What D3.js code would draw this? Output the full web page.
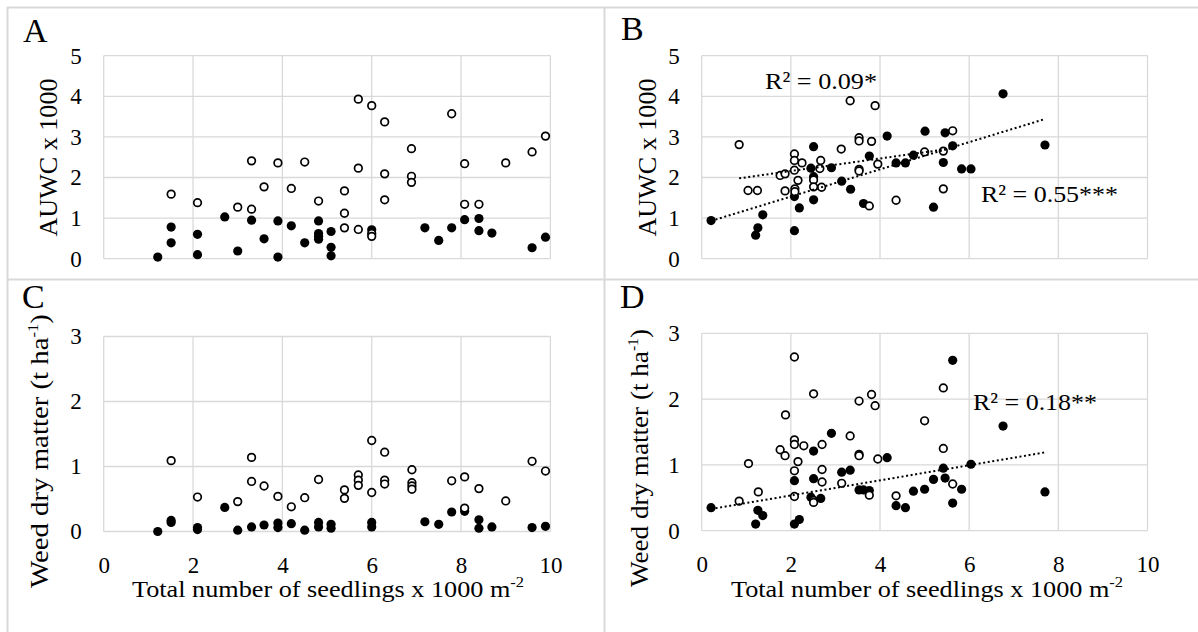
<!DOCTYPE html>
<html>
<head>
<meta charset="utf-8">
<script src="https://cdn.jsdelivr.net/npm/d3@7/dist/d3.min.js"></script>
<style>
  body { margin: 0; background: #fff; }
  svg { display: block; }
  text { font-family: "Liberation Serif", "Times New Roman", serif; fill: #000; }
</style>
</head>
<body>
<div id="chart"></div>
<script>
var width = 1198;
var height = 632;

var aOpenX = [1.51, 2.10, 3.00, 3.31, 3.31, 3.59, 3.90, 4.20, 4.50, 4.81, 5.39, 5.39, 5.39, 5.70, 5.70, 5.70, 6.00, 6.00, 6.00, 6.29, 6.29, 6.29, 6.89, 6.89, 6.89, 7.79, 8.08, 8.08, 8.40, 9.00, 9.59, 9.89];
var aOpenY = [1.59, 1.38, 1.27, 2.41, 1.22, 1.77, 2.36, 1.73, 2.38, 1.42, 1.67, 1.12, 0.76, 3.93, 2.23, 0.72, 3.77, 0.62, 0.55, 3.37, 2.09, 1.45, 2.71, 2.03, 1.88, 3.57, 2.34, 1.34, 1.34, 2.36, 2.63, 3.02];
var aFillX = [1.21, 1.51, 1.51, 2.10, 2.10, 2.71, 3.00, 3.31, 3.59, 3.90, 3.90, 4.20, 4.50, 4.81, 4.81, 4.81, 4.81, 5.09, 5.09, 5.09, 6.00, 7.19, 7.50, 7.79, 8.08, 8.40, 8.40, 8.69, 9.59, 9.89];
var aFillY = [0.04, 0.78, 0.39, 0.60, 0.10, 1.03, 0.19, 0.95, 0.49, 0.93, 0.04, 0.81, 0.39, 0.93, 0.62, 0.55, 0.48, 0.67, 0.28, 0.07, 0.71, 0.76, 0.45, 0.76, 0.96, 0.99, 0.69, 0.63, 0.27, 0.53];

var bOpenX = [0.84, 1.04, 1.25, 1.76, 1.87, 1.87, 2.08, 2.08, 2.08, 2.09, 2.09, 2.16, 2.25, 2.51, 2.51, 2.67, 2.65, 2.69, 3.13, 3.33, 3.53, 3.53, 3.53, 3.53, 3.76, 3.81, 3.89, 3.95, 4.36, 5.00, 5.42, 5.42, 5.63];
var bOpenY = [2.81, 1.68, 1.68, 2.05, 2.09, 1.67, 2.58, 2.42, 2.18, 1.72, 1.65, 1.93, 2.36, 1.94, 1.77, 2.42, 2.22, 1.76, 2.70, 3.89, 2.98, 2.90, 2.20, 2.16, 1.30, 2.89, 3.77, 2.33, 1.44, 2.63, 2.65, 1.72, 3.15];
var bFillX = [0.21, 1.21, 1.26, 1.37, 2.08, 2.08, 2.19, 2.51, 2.45, 2.51, 2.51, 2.91, 3.14, 3.34, 3.63, 3.76, 4.16, 4.36, 4.57, 4.75, 5.01, 5.20, 5.42, 5.46, 5.63, 5.83, 6.04, 6.76, 7.70];
var bFillY = [0.94, 0.58, 0.76, 1.08, 0.69, 1.53, 1.25, 2.76, 2.23, 2.02, 1.45, 2.24, 1.91, 1.71, 1.36, 2.53, 3.02, 2.36, 2.36, 2.55, 3.14, 1.27, 2.37, 3.10, 2.78, 2.21, 2.21, 4.06, 2.80];

var cOpenX = [1.51, 2.10, 3.00, 3.31, 3.31, 3.59, 3.90, 4.20, 4.50, 4.81, 5.39, 5.39, 5.70, 5.70, 5.70, 6.00, 6.00, 6.29, 6.29, 6.29, 6.90, 6.90, 6.90, 6.90, 7.79, 8.08, 8.08, 8.40, 9.00, 9.59, 9.89];
var cOpenY = [1.09, 0.53, 0.46, 1.14, 0.77, 0.70, 0.54, 0.38, 0.52, 0.80, 0.64, 0.51, 0.87, 0.79, 0.71, 1.40, 0.60, 1.22, 0.79, 0.73, 0.95, 0.75, 0.70, 0.65, 0.78, 0.84, 0.36, 0.66, 0.47, 1.08, 0.93];
var cFillX = [1.21, 1.51, 1.51, 2.10, 2.10, 2.71, 3.00, 3.31, 3.59, 3.90, 3.90, 4.20, 4.50, 4.81, 4.81, 5.09, 5.09, 6.00, 6.00, 7.19, 7.50, 7.79, 8.08, 8.40, 8.40, 8.69, 9.59, 9.89];
var cFillY = [0.00, 0.17, 0.14, 0.06, 0.03, 0.37, 0.02, 0.07, 0.10, 0.13, 0.06, 0.12, 0.02, 0.14, 0.07, 0.11, 0.05, 0.14, 0.07, 0.15, 0.11, 0.30, 0.31, 0.18, 0.05, 0.07, 0.06, 0.08];

var dOpenX = [0.84, 1.05, 1.27, 1.76, 1.87, 1.88, 2.08, 2.08, 2.08, 2.08, 2.08, 2.16, 2.29, 2.51, 2.51, 2.51, 2.70, 2.70, 2.70, 3.14, 3.33, 3.53, 3.53, 3.53, 3.76, 3.81, 3.89, 3.95, 4.36, 5.00, 5.42, 5.42, 5.63];
var dOpenY = [0.45, 1.02, 0.59, 1.23, 1.14, 1.76, 2.64, 1.38, 1.31, 0.91, 0.52, 1.05, 1.29, 2.08, 0.46, 0.43, 1.31, 0.93, 0.74, 0.72, 1.44, 1.97, 1.16, 1.14, 0.54, 2.07, 1.90, 1.09, 0.53, 1.67, 2.17, 1.25, 0.71];
var dFillX = [0.21, 1.21, 1.26, 1.37, 2.08, 2.19, 2.08, 2.51, 2.51, 2.45, 2.67, 2.91, 3.14, 3.33, 3.53, 3.63, 3.76, 4.16, 4.36, 4.57, 4.75, 5.00, 5.20, 5.42, 5.46, 5.63, 5.63, 5.83, 6.04, 6.76, 7.70];
var dFillY = [0.35, 0.10, 0.31, 0.23, 0.10, 0.17, 0.76, 1.21, 0.79, 0.51, 0.49, 1.48, 0.89, 0.92, 0.62, 0.62, 0.61, 1.11, 0.38, 0.35, 0.60, 0.63, 0.78, 0.95, 0.80, 2.59, 0.42, 0.63, 1.01, 1.59, 0.59];

// dotted trend lines, end points
var bTrendOpenX = [0.84, 5.63];
var bTrendOpenY = [1.98, 2.72];
var bTrendFillX = [0.21, 7.70];
var bTrendFillY = [0.93, 3.44];
var dTrendX = [0.21, 7.70];
var dTrendY = [0.33, 1.19];

var xTicks = [0, 2, 4, 6, 8, 10];
var auwcTicks = [0, 1, 2, 3, 4, 5];
var weedTicks = [0, 1, 2, 3];

function zip(xs, ys) { return xs.map((x, i) => [x, ys[i]]); }

var panels = [
  { label: "A", lx: 23, ly: 42, x0: 103.7, x1: 550.4, yTop: 55.7, yBot: 258.7, yMax: 5, yTicks: auwcTicks,
    open: zip(aOpenX, aOpenY), fill: zip(aFillX, aFillY), trends: [], notes: [], xLabels: false,
    yTitle: { x: 57, y: 157.5, len: 158 } },
  { label: "B", lx: 621, ly: 40, x0: 701.7, x1: 1147.5, yTop: 55.7, yBot: 258.7, yMax: 5, yTicks: auwcTicks,
    open: zip(bOpenX, bOpenY), fill: zip(bFillX, bFillY),
    trends: [zip(bTrendOpenX, bTrendOpenY), zip(bTrendFillX, bTrendFillY)],
    notes: [{ t: "R² = 0.09*", x: 765, y: 88.5, len: 112 }, { t: "R² = 0.55***", x: 981, y: 201.5, len: 137 }],
    xLabels: false, yTitle: { x: 656, y: 157.5, len: 158 } },
  { label: "C", lx: 22, ly: 308, x0: 103.7, x1: 550.4, yTop: 336.5, yBot: 531.5, yMax: 3, yTicks: weedTicks,
    open: zip(cOpenX, cOpenY), fill: zip(cFillX, cFillY), trends: [], notes: [], xLabels: true,
    yTitle: { x: 48, y: 451, len: 274 }, xTitle: { x: 328, y: 597, len: 392 } },
  { label: "D", lx: 620, ly: 308, x0: 701.7, x1: 1147.5, yTop: 333.3, yBot: 530.7, yMax: 3, yTicks: weedTicks,
    open: zip(dOpenX, dOpenY), fill: zip(dFillX, dFillY), trends: [zip(dTrendX, dTrendY)],
    notes: [{ t: "R² = 0.18**", x: 973, y: 410, len: 124 }], xLabels: true,
    yTitle: { x: 648, y: 458, len: 258 }, xTitle: { x: 927, y: 597, len: 392 } }
];

var svg = d3.select("#chart").append("svg")
  .attr("width", width)
  .attr("height", height);

// panel frame lines
var frame = [[7, 7.5, 1198, 7.5], [7.5, 7, 7.5, 632], [7, 279.5, 1198, 279.5], [604.5, 7, 604.5, 632]];
svg.selectAll(".frame").data(frame).enter().append("line")
  .attr("x1", d => d[0]).attr("y1", d => d[1]).attr("x2", d => d[2]).attr("y2", d => d[3])
  .attr("stroke", "#d9d9d9").attr("stroke-width", 2);

panels.forEach(function (p) {
  var g = svg.append("g");
  var x = d3.scaleLinear().domain([0, 10]).range([p.x0, p.x1]);
  var y = d3.scaleLinear().domain([0, p.yMax]).range([p.yBot, p.yTop]);

  // grid
  g.selectAll(".hgrid").data(p.yTicks).enter().append("line")
    .attr("x1", p.x0).attr("x2", p.x1)
    .attr("y1", d => y(d)).attr("y2", d => y(d))
    .attr("stroke", "#d9d9d9").attr("stroke-width", 1.3);
  g.selectAll(".vgrid").data(xTicks).enter().append("line")
    .attr("x1", d => x(d)).attr("x2", d => x(d))
    .attr("y1", p.yTop).attr("y2", p.yBot)
    .attr("stroke", "#d9d9d9").attr("stroke-width", 1.3);

  // y axis labels
  var yAxis = g.append("g")
    .attr("transform", "translate(" + p.x0 + ",0)")
    .call(d3.axisLeft(y).tickValues(p.yTicks).tickSize(0).tickPadding(22).tickFormat(d3.format("d")));
  yAxis.select(".domain").remove();
  yAxis.selectAll("text").style("font-size", "23px").style("font-family", "Liberation Serif");

  if (p.xLabels) {
    var xAxis = g.append("g")
      .attr("transform", "translate(0," + p.yBot + ")")
      .call(d3.axisBottom(x).tickValues(xTicks).tickSize(0).tickPadding(25).tickFormat(d3.format("d")));
    xAxis.select(".domain").remove();
    xAxis.selectAll("text").style("font-size", "23px").style("font-family", "Liberation Serif");
  }

  // markers
  g.selectAll(".filled").data(p.fill).enter().append("circle")
    .attr("cx", d => x(d[0])).attr("cy", d => y(d[1])).attr("r", 4.6)
    .attr("fill", "#000");
  g.selectAll(".open").data(p.open).enter().append("circle")
    .attr("cx", d => x(d[0])).attr("cy", d => y(d[1])).attr("r", 3.8)
    .attr("fill", "#fff").attr("stroke", "#000").attr("stroke-width", 1.7);

  // trend lines
  var line = d3.line().x(d => x(d[0])).y(d => y(d[1]));
  p.trends.forEach(function (t) {
    g.append("path").attr("d", line(t))
      .attr("fill", "none").attr("stroke", "#000")
      .attr("stroke-width", 2).attr("stroke-dasharray", "2,2.6");
  });

  p.notes.forEach(function (n) {
    g.append("text").attr("x", n.x).attr("y", n.y)
      .attr("textLength", n.len).attr("lengthAdjust", "spacingAndGlyphs")
      .style("font-size", "24px").text(n.t);
  });

  // panel letter
  g.append("text").attr("x", p.lx).attr("y", p.ly).style("font-size", "34px").text(p.label);

  // y title
  var yt = g.append("text")
    .attr("transform", "translate(" + p.yTitle.x + "," + p.yTitle.y + ") rotate(-90)")
    .attr("text-anchor", "middle")
    .attr("textLength", p.yTitle.len).attr("lengthAdjust", "spacingAndGlyphs")
    .style("font-size", "26px");
  if (p.yMax === 5) {
    yt.text("AUWC x 1000");
  } else {
    yt.append("tspan").text("Weed dry matter (t ha");
    yt.append("tspan").attr("dy", -10).style("font-size", "15px").text("-1");
    yt.append("tspan").attr("dy", 10).text(")");
  }

  if (p.xTitle) {
    var xt = g.append("text")
      .attr("x", p.xTitle.x).attr("y", p.xTitle.y)
      .attr("text-anchor", "middle")
      .attr("textLength", p.xTitle.len).attr("lengthAdjust", "spacingAndGlyphs")
      .style("font-size", "24px");
    xt.append("tspan").text("Total number of seedlings x 1000 m");
    xt.append("tspan").attr("dy", -10).style("font-size", "15px").text("-2");
  }
});
</script>
</body>
</html>
